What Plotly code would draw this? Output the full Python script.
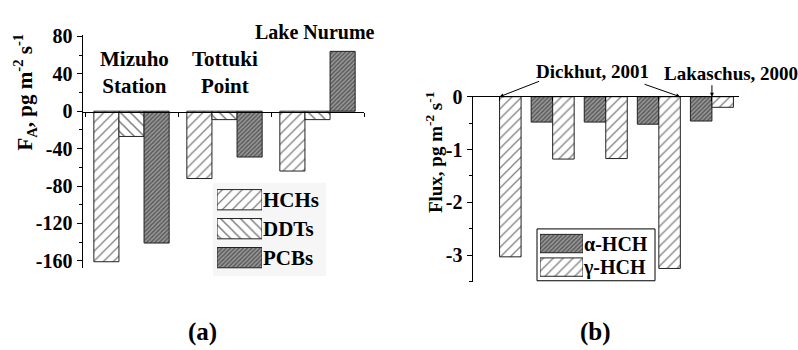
import plotly.graph_objects as go

# ---------------- data ----------------
sites = ["Mizuho Station", "Tottuki Point", "Lake Nurume"]
hchs = [-161, -72, -64]
ddts = [-27, -9, -9]
pcbs = [-141, -49, 64]
left_ticks = [-160, -120, -80, -40, 0, 40, 80]
left_ticktext = ["-160", "-120", "-80", "-40", "0", "40", "80"]

studies = ["s1", "s2", "s3", "s4", "s5"]
alpha_hch = [None, -0.48, -0.48, -0.52, -0.46]
gamma_hch = [-3.03, -1.18, -1.17, -3.25, -0.20]
right_ticks = [-3, -2, -1, 0]
right_ticktext = ["-3", "-2", "-1", "0"]

left_names = ["HCHs", "DDTs", "PCBs"]
right_names = ["\u03b1-HCH", "\u03b3-HCH"]

W, H = 798, 350
def px(x):
    return x / W
def py(y):
    return 1 - y / H

FONT = "Liberation Serif, Times New Roman, serif"
LINE = dict(color="#222", width=1)

pat_hch = dict(shape="/", fgcolor="black", bgcolor="white", size=7, solidity=0.18)
pat_ddt = dict(shape="\\", fgcolor="black", bgcolor="white", size=7, solidity=0.22)
pat_pcb = dict(shape="/", fgcolor="#1a1a1a", bgcolor="#9a9a9a", size=3, solidity=0.5)

fig = go.Figure()

# ---------------- panel (a) ----------------
for name, vals, pat in zip(left_names, [hchs, ddts, pcbs], [pat_hch, pat_ddt, pat_pcb]):
    fig.add_trace(go.Bar(x=sites, y=vals, name=name, xaxis="x", yaxis="y",
                         marker=dict(color="white", pattern=pat, line=LINE),
                         showlegend=False))

# ---------------- panel (b) ----------------
for name, vals, pat in zip(right_names, [alpha_hch, gamma_hch], [pat_pcb, pat_hch]):
    fig.add_trace(go.Bar(x=studies, y=vals, name=name, xaxis="x2", yaxis="y2",
                         marker=dict(color="white", pattern=pat, line=LINE),
                         showlegend=False))

# ---------------- custom legends (swatches) ----------------
for name, pat in zip(left_names, [pat_hch, pat_ddt, pat_pcb]):
    fig.add_trace(go.Bar(y=[name], x=[1], orientation="h", xaxis="x3", yaxis="y3",
                         width=0.7, offset=-0.35,
                         marker=dict(color="white", pattern=pat, line=LINE),
                         showlegend=False, hoverinfo="skip"))
for name, pat in zip(right_names, [pat_pcb, pat_hch]):
    fig.add_trace(go.Bar(y=[name], x=[1], orientation="h", xaxis="x4", yaxis="y4",
                         width=0.78, offset=-0.39,
                         marker=dict(color="white", pattern=pat, line=LINE),
                         showlegend=False, hoverinfo="skip"))

tickfont = dict(family=FONT, size=20, color="black", weight="bold")

fig.update_layout(
    width=W, height=H, margin=dict(l=0, r=0, t=0, b=0),
    paper_bgcolor="white", plot_bgcolor="rgba(0,0,0,0)",
    barmode="group", bargap=0.19, bargroupgap=0,
    font=dict(family=FONT, color="black"),
    showlegend=False,
    xaxis=dict(domain=[px(82.5), px(364)], range=[-0.527, 2.5], anchor="free",
               position=py(104.8), showline=True, linecolor="black", linewidth=1,
               showticklabels=False, ticks="outside", ticklen=4, tickcolor="black",
               tickson="boundaries", showgrid=False, zeroline=False, fixedrange=True),
    yaxis=dict(domain=[py(268), py(25)], range=[-168, 81.5], anchor="x",
               showline=True, linecolor="black", linewidth=1, ticks="outside",
               ticklen=5, tickcolor="black", tickmode="array", tickvals=left_ticks,
               ticktext=left_ticktext, tickfont=tickfont, showgrid=False,
               zeroline=False,
               minor=dict(ticks="outside", ticklen=3, tickcolor="black",
                          tickmode="linear", tick0=0, dtick=20, showgrid=False)),
    xaxis2=dict(domain=[px(472.5), px(739)], range=[-0.51, 4.51], anchor="y2",
                side="top", showline=True, linecolor="black", linewidth=1,
                showticklabels=False, ticks="inside", ticklen=4, tickcolor="black",
                showgrid=False, zeroline=False),
    yaxis2=dict(domain=[py(282.5), py(89.3)], range=[-3.51, 0], anchor="x2",
                showline=True, linecolor="black", linewidth=1, ticks="outside",
                ticklen=5, tickcolor="black", tickmode="array", tickvals=right_ticks,
                ticktext=right_ticktext, tickfont=tickfont, showgrid=False,
                zeroline=False,
                minor=dict(ticks="outside", ticklen=3, tickcolor="black",
                           tickmode="linear", tick0=0, dtick=0.5, showgrid=False)),
    xaxis3=dict(domain=[px(217), px(262)], range=[0, 1], anchor="y3", visible=False),
    yaxis3=dict(domain=[py(272), py(181.5)], range=[2.5, -0.5], anchor="x3",
                side="right", showline=False, ticks="", showgrid=False, zeroline=False,
                tickmode="array", tickvals=left_names, ticktext=left_names,
                tickfont=dict(family=FONT, size=21, color="black", weight="bold")),
    xaxis4=dict(domain=[px(540), px(583)], range=[0, 1], anchor="y4", visible=False),
    yaxis4=dict(domain=[py(279), py(230)], range=[1.5, -0.5], anchor="x4",
                side="right", showline=False, ticks="", showgrid=False, zeroline=False,
                tickmode="array", tickvals=right_names, ticktext=right_names,
                tickfont=dict(family=FONT, size=20, color="black", weight="bold")),
)

# legend boxes
fig.add_shape(type="rect", xref="paper", yref="paper", layer="below",
              x0=px(213), x1=px(326), y0=py(276), y1=py(179),
              fillcolor="#f6f6f6", line=dict(width=0))
fig.add_shape(type="rect", xref="paper", yref="paper", layer="below",
              x0=px(537), x1=px(655), y0=py(281), y1=py(227),
              fillcolor="white", line=dict(color="black", width=1))

def label(text, x, y, size=20, angle=0):
    fig.add_annotation(text=text, xref="paper", yref="paper", x=px(x), y=py(y),
                       showarrow=False, textangle=angle, xanchor="center",
                       yanchor="middle",
                       font=dict(family=FONT, size=size, color="black", weight="bold"))

# site labels
label("Mizuho<br>Station", 134, 64, 21)
label("Tottuki<br>Point", 225, 64, 21)
label("Lake Nurume", 315, 22, 20)

# axis titles
label("F<sub>A</sub>, pg m<sup>-2</sup> s<sup>-1</sup>", 25, 85, 21, -90)
label("Flux, pg m<sup>-2</sup> s<sup>-1</sup>", 434, 148, 19, -90)

# panel labels
label("(a)", 202, 334, 25)
label("(b)", 595, 334, 25)

# references
label("Dickhut, 2001", 592, 63, 19)
label("Lakaschus, 2000", 731, 65, 19)

ARW = dict(showarrow=True, arrowhead=2, arrowsize=0.8, arrowwidth=1,
           arrowcolor="black", text="", xref="x2", yref="y2", axref="pixel",
           ayref="pixel")
fig.add_annotation(x=0, y=0, ax=41, ay=-16, **ARW)
fig.add_annotation(x=3.4, y=0, ax=-37, ay=-13, **ARW)
fig.add_annotation(x=4, y=0, ax=0, ay=-13, **ARW)

fig.write_html("out.html", config={"displayModeBar": False},
               post_script="document.body.style.margin='0';document.body.style.overflow='hidden';")
